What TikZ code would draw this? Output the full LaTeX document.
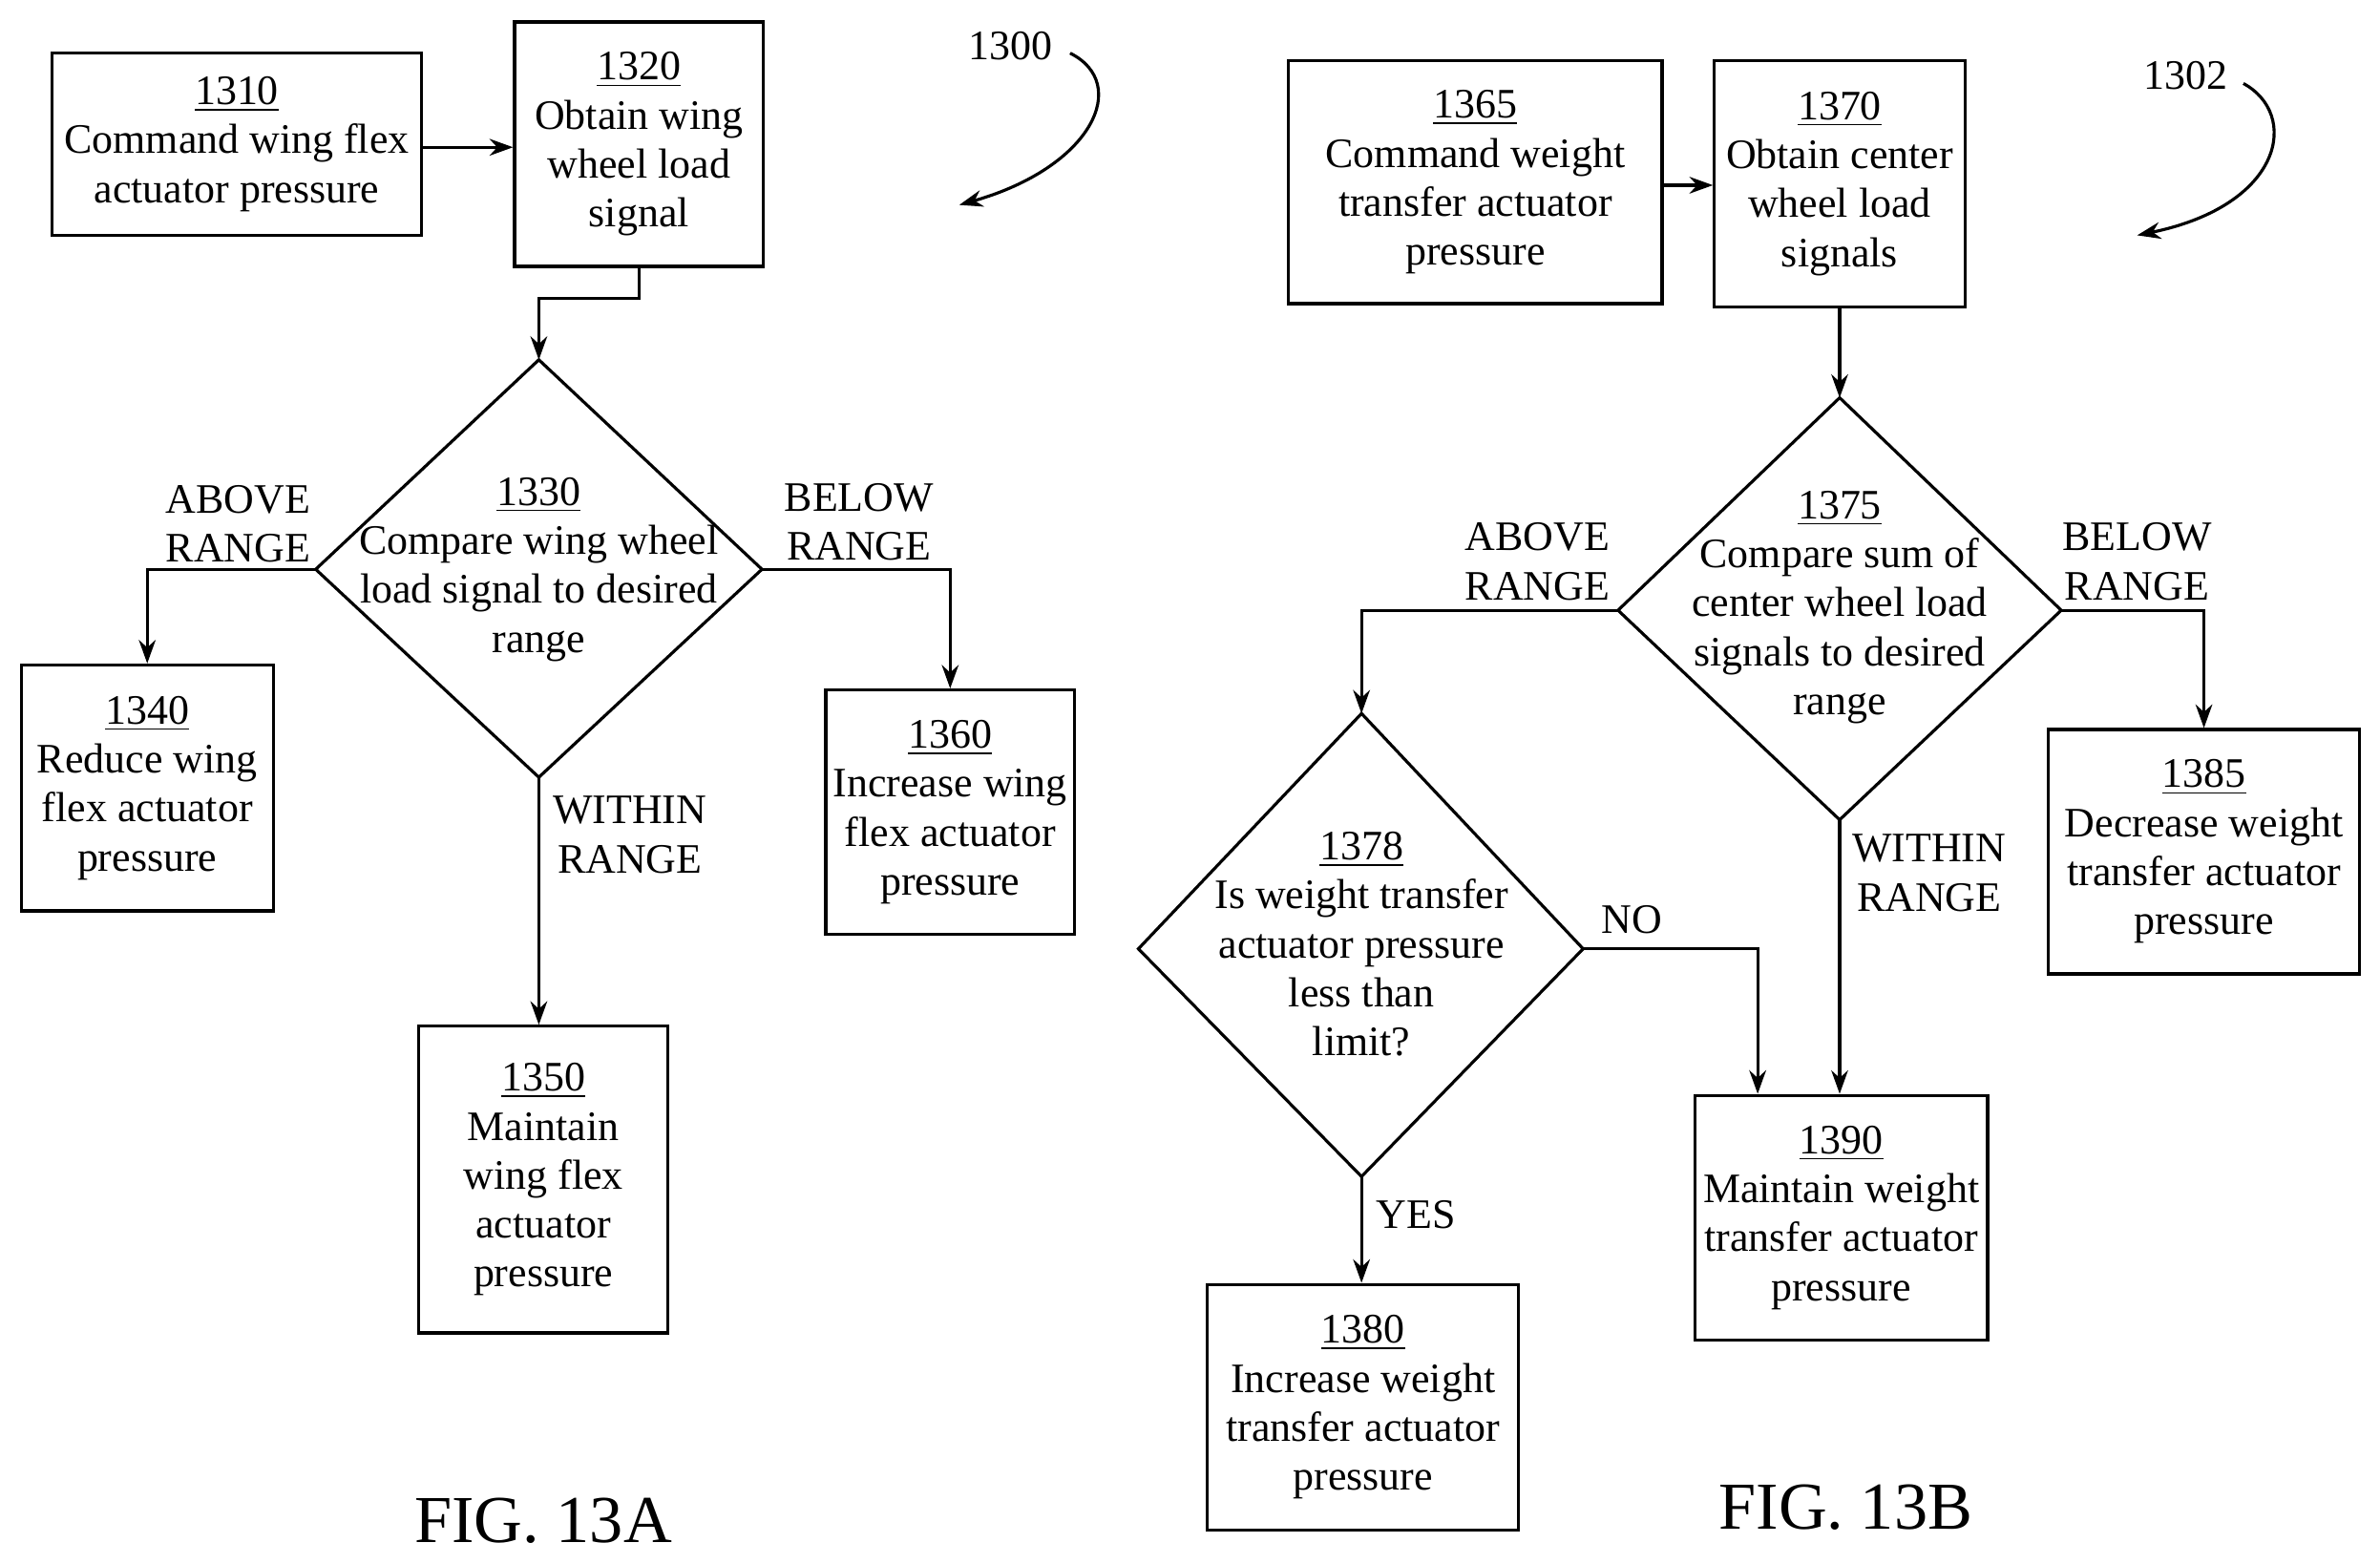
\documentclass[tikz,border=0pt]{standalone}
\usepackage{fontspec}
\setmainfont{Liberation Serif}
\usetikzlibrary{arrows.meta}
\begin{document}
\begin{tikzpicture}[x=0.0159cm,y=-0.0159cm,
 box/.style={draw,line width=0.9pt,align=center,font=\fontsize{12.5}{14.6}\selectfont,inner sep=0pt},
 txt/.style={align=center,font=\fontsize{12.5}{14.6}\selectfont,inner sep=0pt},
 lab/.style={align=center,font=\fontsize{12.5}{14.6}\selectfont,inner sep=0pt},
 dia/.style={draw,line width=0.9pt},
 arr/.style={draw,line width=0.9pt,-{Stealth[length=7pt,width=5pt]}},
 ln/.style={draw,line width=0.9pt}]
\useasboundingbox (0,0) rectangle (1568,1030);
% FIG 13A
\node[box,minimum width=243*0.0159cm,minimum height=120*0.0159cm] (b1310) at (156,95) {\underline{1310}\\Command wing flex\\actuator pressure};
\node[box,minimum width=164*0.0159cm,minimum height=161*0.0159cm] (b1320) at (421,95) {\underline{1320}\\Obtain wing\\wheel load\\signal};
\coordinate (d1t) at (355,237); \coordinate (d1l) at (208,375); \coordinate (d1r) at (502,375); \coordinate (d1b) at (355,512);
\draw[dia] (d1t)--(d1r)--(d1b)--(d1l)--cycle;
\node[txt] (t1330) at (355,375) {\underline{1330}\\Compare wing wheel\\load signal to desired\\range};
\node[box,minimum width=166*0.0159cm,minimum height=162*0.0159cm] (b1340) at (97,519) {\underline{1340}\\Reduce wing\\flex actuator\\pressure};
\node[box,minimum width=164*0.0159cm,minimum height=161*0.0159cm] (b1360) at (626,535) {\underline{1360}\\Increase wing\\flex actuator\\pressure};
\node[box,minimum width=164*0.0159cm,minimum height=202*0.0159cm] (b1350) at (358,777) {\underline{1350}\\Maintain\\wing flex\\actuator\\pressure};
\draw[arr] (b1310.east|-0,97) -- (b1320.west|-0,97);
\draw[arr] (b1320.south) -- ++(0,20) -| (d1t);
\draw[arr] (d1l) -| (b1340.north);
\draw[arr] (d1r) -| (b1360.north);
\draw[arr] (d1b) -- (b1350.north-|d1b);
\node[lab] (l1) at (157,345) {ABOVE\\RANGE};
\node[lab] (l2) at (566,344) {BELOW\\RANGE};
\node[lab] (l3) at (415,550) {WITHIN\\RANGE};
\node[txt] (n1300) at (666,30) {1300};
\coordinate (c1a) at (705,35); \coordinate (c1b) at (632,135);
\draw[arr] (c1a) .. controls (745,55) and (720,110) .. (c1b);
\node[font=\fontsize{20}{22}\selectfont] (f13a) at (358,1002) {FIG. 13A};
% FIG 13B
\node[box,minimum width=246*0.0159cm,minimum height=160*0.0159cm] (b1365) at (972,120) {\underline{1365}\\Command weight\\transfer actuator\\pressure};
\node[box,minimum width=165*0.0159cm,minimum height=162*0.0159cm] (b1370) at (1212,121) {\underline{1370}\\Obtain center\\wheel load\\signals};
\coordinate (d2t) at (1212,262); \coordinate (d2l) at (1066,402); \coordinate (d2r) at (1358,402); \coordinate (d2b) at (1212,540);
\draw[dia] (d2t)--(d2r)--(d2b)--(d2l)--cycle;
\node[txt] (t1375) at (1212,400) {\underline{1375}\\Compare sum of\\center wheel load\\signals to desired\\range};
\coordinate (d3t) at (897,470); \coordinate (d3l) at (750,625); \coordinate (d3r) at (1043,625); \coordinate (d3b) at (897,775);
\draw[dia] (d3t)--(d3r)--(d3b)--(d3l)--cycle;
\node[txt] (t1378) at (897,622) {\underline{1378}\\Is weight transfer\\actuator pressure\\less than\\limit?};
\node[box,minimum width=205*0.0159cm,minimum height=161*0.0159cm] (b1385) at (1452,561) {\underline{1385}\\Decrease weight\\transfer actuator\\pressure};
\node[box,minimum width=193*0.0159cm,minimum height=161*0.0159cm] (b1390) at (1213,802) {\underline{1390}\\Maintain weight\\transfer actuator\\pressure};
\node[box,minimum width=205*0.0159cm,minimum height=162*0.0159cm] (b1380) at (898,927) {\underline{1380}\\Increase weight\\transfer actuator\\pressure};
\draw[arr] (b1365.east|-0,122) -- (b1370.west|-0,122);
\draw[arr] (b1370.south) -- (d2t);
\draw[arr] (d2l) -| (d3t);
\draw[arr] (d2r) -| (b1385.north);
\draw[arr] (d2b) -- (b1390.north-|d2b);
\draw[arr] (d3r) -| (b1390.north-|1158,0);
\draw[arr] (d3b) -- (b1380.north-|d3b);
\node[lab] (l4) at (1013,370) {ABOVE\\RANGE};
\node[lab] (l5) at (1408,370) {BELOW\\RANGE};
\node[lab] (l6) at (1271,575) {WITHIN\\RANGE};
\node[lab] (l7) at (1075,606) {NO};
\node[lab] (l8) at (933,800) {YES};
\node[txt] (n1302) at (1440,50) {1302};
\coordinate (c2a) at (1478,55); \coordinate (c2b) at (1408,155);
\draw[arr] (c2a) .. controls (1515,75) and (1505,135) .. (c2b);
\node[font=\fontsize{20}{22}\selectfont] (f13b) at (1216,993) {FIG. 13B};
\end{tikzpicture}
\end{document}
